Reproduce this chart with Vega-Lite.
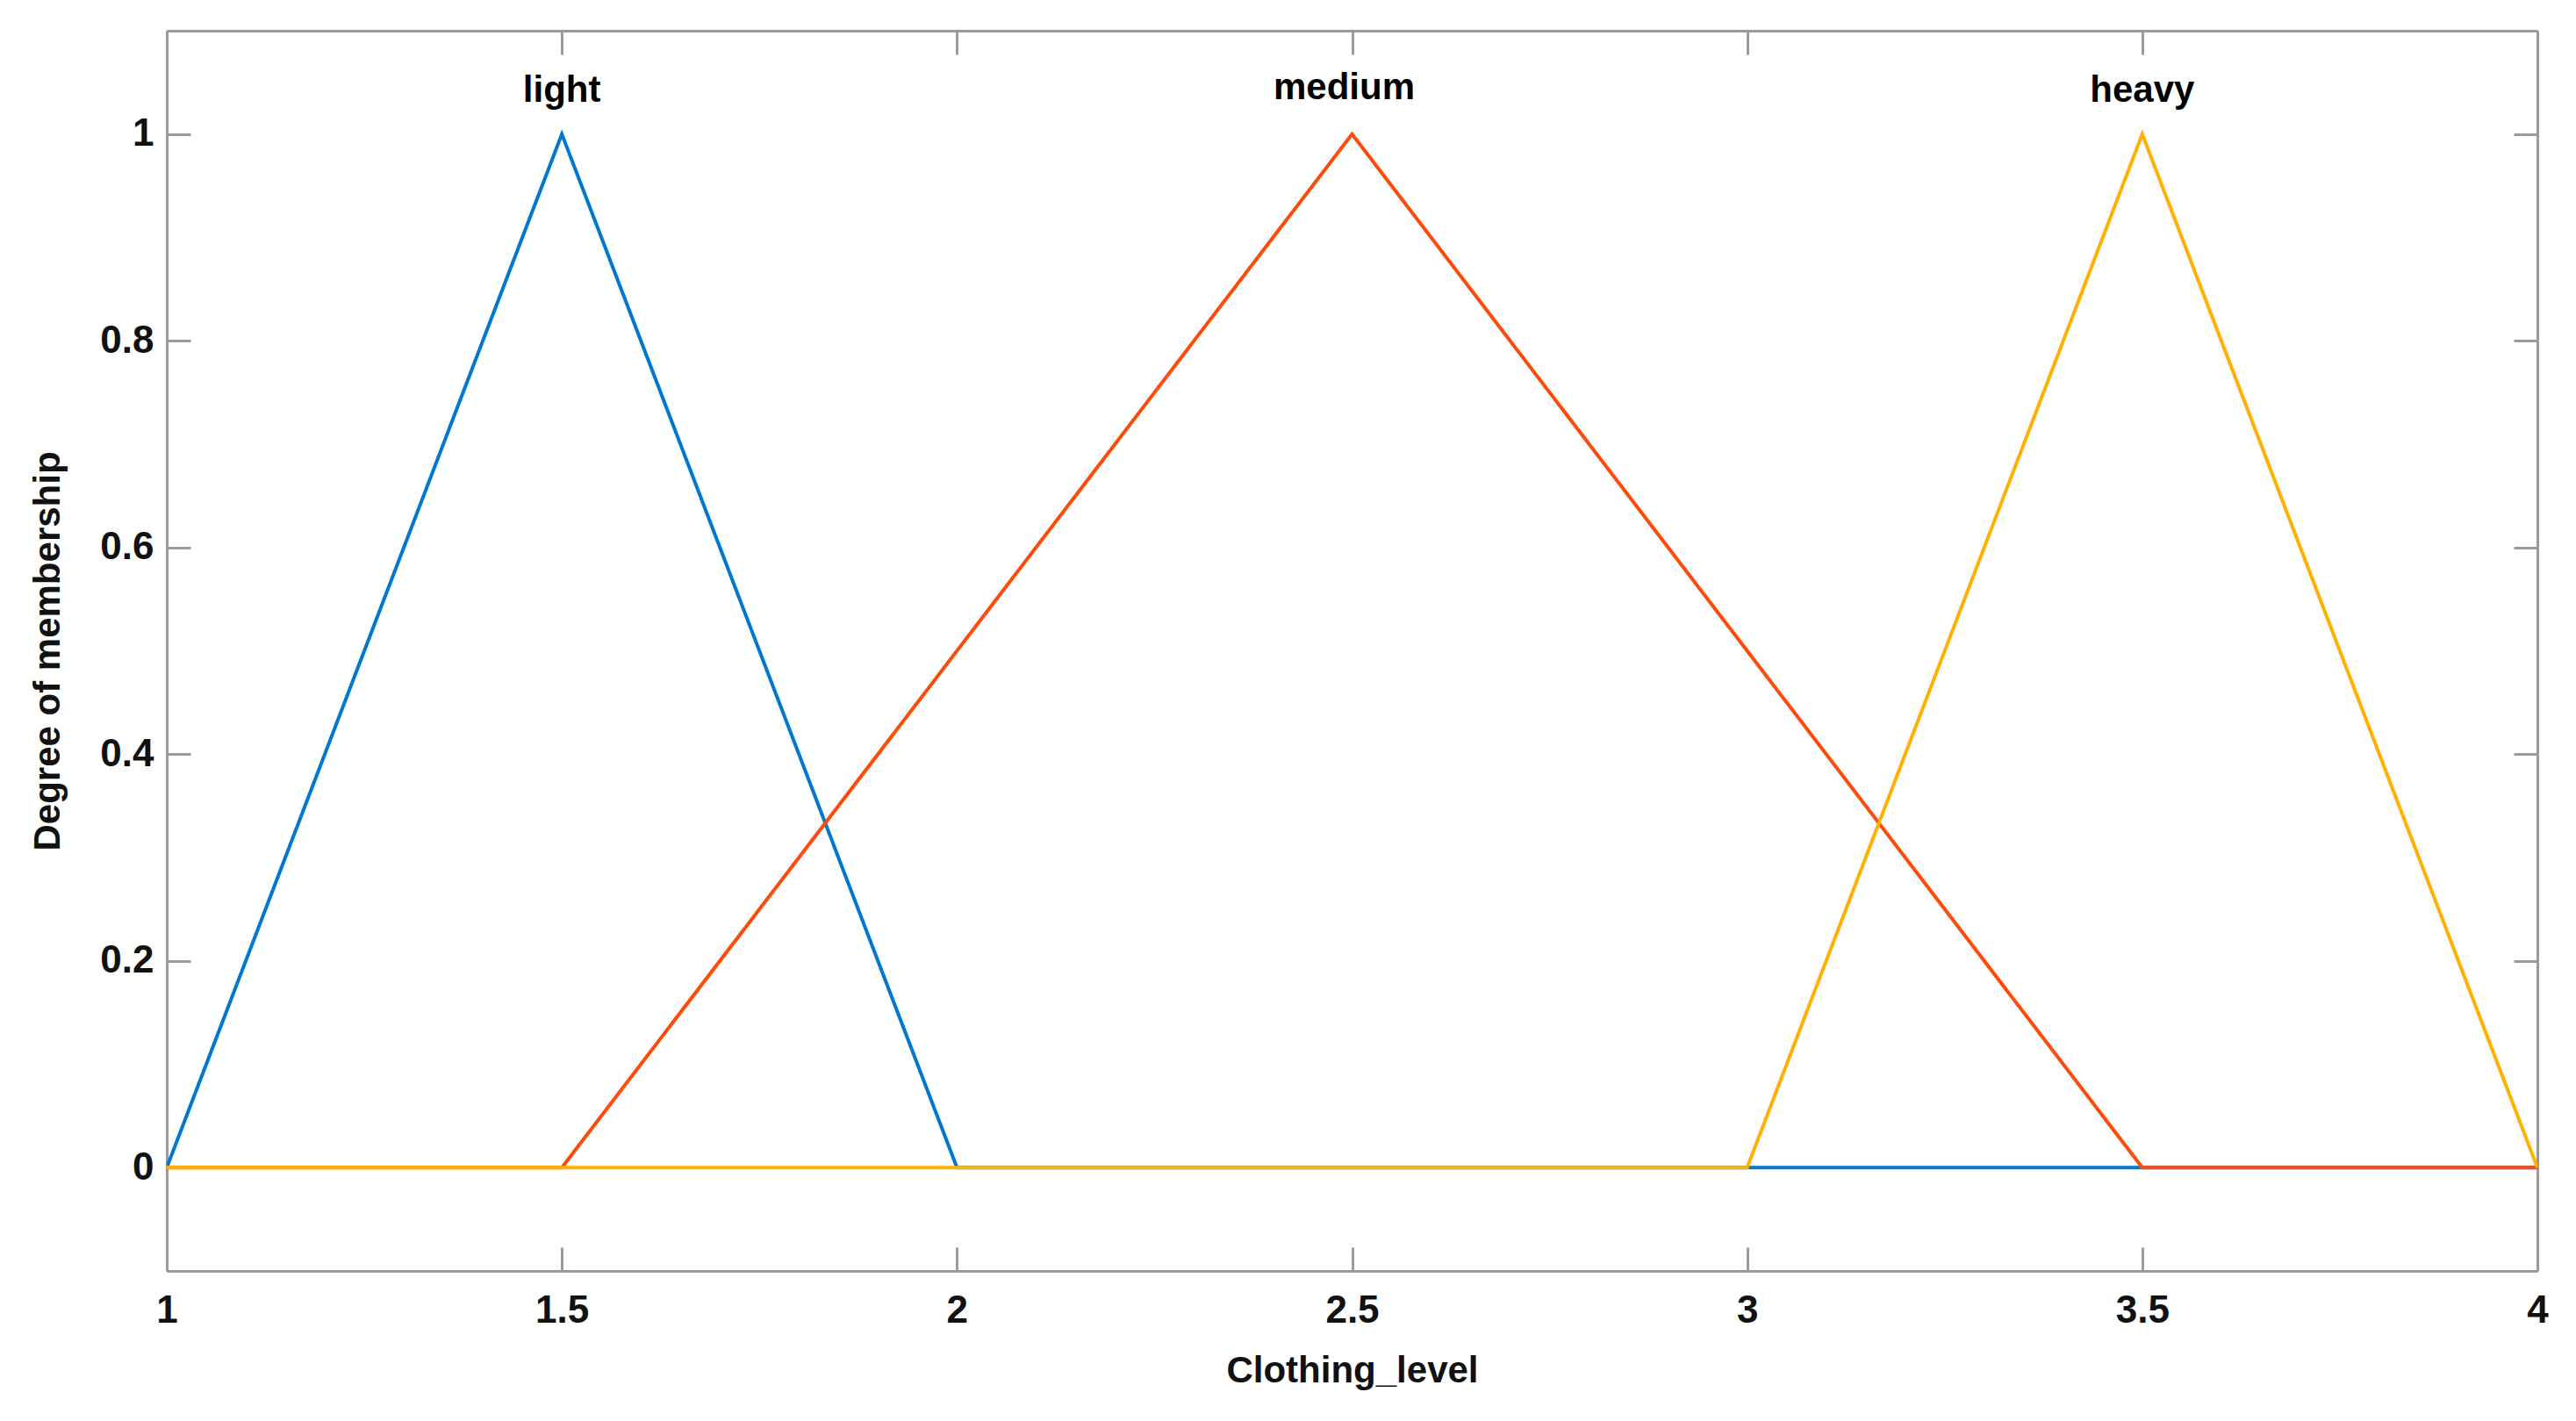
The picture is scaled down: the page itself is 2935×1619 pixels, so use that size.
{
  "$schema": "https://vega.github.io/schema/vega-lite/v6.json",
  "autosize": "none",
  "width": 2701,
  "height": 1413,
  "padding": {"left": 190, "top": 35, "right": 44, "bottom": 171},
  "background": "white",
  "config": {
    "view": {"stroke": null},
    "axis": {
      "grid": false,
      "domainColor": "#9a9a9a",
      "domainWidth": 3,
      "tickColor": "#9a9a9a",
      "tickWidth": 3,
      "labelFlush": false,
      "labelFont": "Liberation Sans",
      "labelFontWeight": "bold",
      "labelFontSize": 44,
      "labelColor": "#111111",
      "titleFont": "Liberation Sans",
      "titleFontWeight": "bold",
      "titleFontSize": 42,
      "titleColor": "#111111"
    }
  },
  "datasets": {
    "mf": [
      {"set": "light", "x": 1, "y": 0},
      {"set": "light", "x": 1.5, "y": 1},
      {"set": "light", "x": 2, "y": 0},
      {"set": "light", "x": 4, "y": 0},
      {"set": "medium", "x": 1, "y": 0},
      {"set": "medium", "x": 1.5, "y": 0},
      {"set": "medium", "x": 2.5, "y": 1},
      {"set": "medium", "x": 3.5, "y": 0},
      {"set": "medium", "x": 4, "y": 0},
      {"set": "heavy", "x": 1, "y": 0},
      {"set": "heavy", "x": 3, "y": 0},
      {"set": "heavy", "x": 3.5, "y": 1},
      {"set": "heavy", "x": 4, "y": 0}
    ],
    "labels": [
      {"name": "light", "x": 1.5, "y": 1.031},
      {"name": "medium", "x": 2.49, "y": 1.034},
      {"name": "heavy", "x": 3.5, "y": 1.031}
    ]
  },
  "layer": [
    {
      "data": {"name": "mf"},
      "mark": {"type": "line", "strokeWidth": 4, "clip": true},
      "encoding": {
        "x": {
          "field": "x", "type": "quantitative",
          "scale": {"domain": [1, 4], "nice": false, "zero": false},
          "axis": {
            "orient": "bottom",
            "values": [1, 1.5, 2, 2.5, 3, 3.5, 4],
            "labelExpr": "'' + datum.value",
            "tickSize": -27,
            "labelPadding": 50,
            "title": "Clothing_level",
            "titlePadding": 26
          }
        },
        "y": {
          "field": "y", "type": "quantitative",
          "scale": {"domain": [-0.1, 1.1], "nice": false, "zero": false},
          "axis": {
            "orient": "left",
            "values": [0, 0.2, 0.4, 0.6, 0.8, 1],
            "labelExpr": "'' + datum.value",
            "tickSize": -27,
            "labelPadding": 42,
            "title": "Degree of membership",
            "titlePadding": 37
          }
        },
        "color": {
          "field": "set", "type": "nominal",
          "scale": {"domain": ["light", "medium", "heavy"], "range": ["#0078d0", "#ff4a0a", "#ffb000"]},
          "legend": null
        },
        "order": {"field": "x", "type": "quantitative"}
      }
    },
    {
      "data": {"name": "labels"},
      "mark": {"type": "text", "font": "Liberation Sans", "fontWeight": "bold", "fontSize": 42, "baseline": "alphabetic", "align": "center", "color": "#000000"},
      "encoding": {
        "x": {"field": "x", "type": "quantitative", "scale": {"domain": [1, 4], "nice": false, "zero": false}, "axis": {"orient": "top", "values": [1, 1.5, 2, 2.5, 3, 3.5, 4], "labels": false, "tickSize": -27, "title": null}},
        "y": {"field": "y", "type": "quantitative", "scale": {"domain": [-0.1, 1.1], "nice": false, "zero": false}, "axis": {"orient": "right", "values": [0, 0.2, 0.4, 0.6, 0.8, 1], "labels": false, "tickSize": -27, "title": null}},
        "text": {"field": "name"}
      }
    }
  ],
  "resolve": {"axis": {"x": "independent", "y": "independent"}}
}
